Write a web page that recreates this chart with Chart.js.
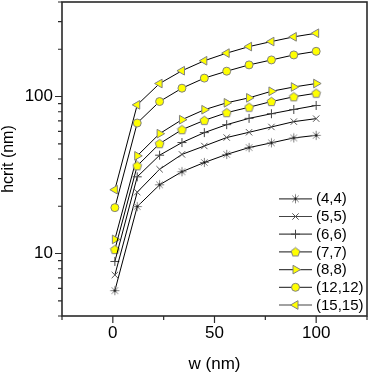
<!DOCTYPE html>
<html><head><meta charset="utf-8">
<script src="https://cdn.jsdelivr.net/npm/chart.js@4/dist/chart.umd.min.js"></script>
<style>html,body{margin:0;padding:0;background:#fff}canvas{display:block}</style>
</head><body>
<canvas id="c" width="369" height="373"></canvas>
<script>
// ---- data ----
const wValues = [1, 12, 23, 34, 45, 56, 67, 78, 89, 100];
const seriesLabels = ['(4,4)', '(5,5)', '(6,6)', '(7,7)', '(8,8)', '(12,12)', '(15,15)'];
const h44   = [5.8, 19.9, 27.4, 33.2, 38.0, 42.8, 47.3, 50.7, 54.5, 56.6];
const h55   = [7.3, 24.6, 34.4, 42.8, 48.4, 54.8, 59.2, 64.0, 69.2, 72.3];
const h66   = [8.9, 30.8, 42.3, 50.9, 58.9, 66.2, 72.6, 77.7, 82.7, 87.7];
const h77   = [10.6, 36.2, 50.1, 61.5, 70.5, 78.9, 85.5, 92.9, 99.6, 105];
const h88   = [12.3, 41.9, 58.0, 71.2, 82.4, 91.2, 98.1, 108, 115, 121];
const h1212 = [19.6, 67.8, 92.9, 113, 131, 145, 159, 171, 184, 194];
const h1515 = [25.5, 88.5, 121, 146, 169, 189, 208, 224, 240, 253];
const xTickValues = [-25, 0, 25, 50, 75, 100, 125];
const xTickLabels = [0, 50, 100];
const yTickLabels = [10, 100];
const xTitle = 'w (nm)';
const yTitle = 'hcrit (nm)';

// ---- marker images ----
function makeCanvas(size, draw) {
  const c = document.createElement('canvas');
  c.width = size; c.height = size;
  draw(c.getContext('2d'), size / 2);
  return c;
}
const starImg = makeCanvas(11, (g, c) => {
  g.strokeStyle = '#808080'; g.lineWidth = 1;
  g.beginPath();
  for (let k = 0; k < 8; k++) {
    const a = k * Math.PI / 4;
    g.moveTo(c, c);
    g.lineTo(c + Math.cos(a) * 4.6, c + Math.sin(a) * 4.6);
  }
  g.stroke();
  g.fillStyle = '#000';
  g.fillRect(c - 1, c - 1, 2, 2);
});
const pentImg = makeCanvas(11, (g, c) => {
  g.beginPath();
  for (let k = 0; k < 5; k++) {
    const a = -Math.PI / 2 + k * 2 * Math.PI / 5;
    const px = c + Math.cos(a) * 4.6, py = c + 0.4 + Math.sin(a) * 4.6;
    k === 0 ? g.moveTo(px, py) : g.lineTo(px, py);
  }
  g.closePath();
  g.fillStyle = '#ffff00'; g.fill();
  g.strokeStyle = '#808080'; g.lineWidth = 1; g.stroke();
});

const styles = [
  {pointStyle: starImg, rotation: 0, radius: 5, bg: '#808080', bc: '#808080'},
  {pointStyle: 'crossRot', rotation: 0, radius: 4.5, bg: '#555', bc: '#555'},
  {pointStyle: 'cross', rotation: 0, radius: 4.5, bg: '#444', bc: '#444'},
  {pointStyle: pentImg, rotation: 0, radius: 5, bg: '#ffff00', bc: '#808080'},
  {pointStyle: 'triangle', rotation: 90, radius: 5, bg: '#ffff00', bc: '#808080'},
  {pointStyle: 'circle', rotation: 0, radius: 4, bg: '#ffff00', bc: '#808080'},
  {pointStyle: 'triangle', rotation: -90, radius: 5, bg: '#ffff00', bc: '#808080'}
];
const series = [h44, h55, h66, h77, h88, h1212, h1515];

const datasets = series.map((vals, i) => ({
  label: seriesLabels[i],
  data: wValues.map((w, j) => ({x: w, y: vals[j]})),
  borderColor: '#000',
  borderWidth: 1,
  tension: 0,
  fill: false,
  pointStyle: styles[i].pointStyle,
  pointRotation: styles[i].rotation,
  pointRadius: styles[i].radius,
  pointBackgroundColor: styles[i].bg,
  pointBorderColor: styles[i].bc,
  pointBorderWidth: 1
}));

const FONT = 'Liberation Sans, Arial, Helvetica, sans-serif';
const AXIS_COLOR = '#2a2a2a';

const framePlugin = {
  id: 'frame',
  afterDatasetsDraw(chart) {
    const {ctx, chartArea: a, scales} = chart;
    ctx.save();
    ctx.strokeStyle = AXIS_COLOR;
    ctx.lineWidth = 1.6;
    ctx.strokeRect(a.left, a.top, a.right - a.left, a.bottom - a.top);
    ctx.lineWidth = 1.2;
    ctx.beginPath();
    scales.y.ticks.forEach(t => {
      const y = scales.y.getPixelForValue(t.value);
      const len = yTickLabels.includes(t.value) ? 7 : 4;
      ctx.moveTo(a.left, y); ctx.lineTo(a.left - len, y);
    });
    scales.x.ticks.forEach(t => {
      const x = scales.x.getPixelForValue(t.value);
      const len = xTickLabels.includes(t.value) ? 7 : 4;
      ctx.moveTo(x, a.bottom); ctx.lineTo(x, a.bottom + len);
    });
    ctx.stroke();
    ctx.restore();
  }
};

const legendPlugin = {
  id: 'customLegend',
  afterDraw(chart) {
    const {ctx, chartArea: a} = chart;
    const ds = chart.data.datasets;
    const n = ds.length;
    const step = 17.7;
    ctx.save();
    ds.forEach((d, i) => {
      const y = a.bottom - 11 - (n - 1 - i) * step;
      const x0 = a.right - 88, x1 = a.right - 55;
      ctx.strokeStyle = '#444';
      ctx.lineWidth = 1.2;
      ctx.beginPath(); ctx.moveTo(x0, y); ctx.lineTo(x1, y); ctx.stroke();
      ctx.fillStyle = d.pointBackgroundColor;
      ctx.strokeStyle = d.pointBorderColor;
      ctx.lineWidth = 1;
      Chart.helpers.drawPoint(ctx, {
        pointStyle: d.pointStyle, rotation: d.pointRotation,
        radius: d.pointRadius, borderWidth: 1
      }, (x0 + x1) / 2, y);
      ctx.fillStyle = '#000';
      ctx.font = '15px ' + FONT;
      ctx.textBaseline = 'middle';
      ctx.textAlign = 'left';
      ctx.fillText(d.label, a.right - 51, y + 0.5);
    });
    ctx.restore();
  }
};

function zeroPad(s) { s.paddingLeft = 0; s.paddingRight = 0; s.paddingTop = 0; s.paddingBottom = 0; }

new Chart(document.getElementById('c'), {
  type: 'line',
  data: {datasets},
  options: {
    responsive: false,
    animation: false,
    devicePixelRatio: 1,
    layout: {autoPadding: false, padding: {top: 2, right: 2, left: 0, bottom: 0}},
    plugins: {legend: {display: false}, tooltip: {enabled: false}},
    scales: {
      x: {
        type: 'linear', min: -25, max: 125,
        afterBuildTicks: s => { s.ticks = xTickValues.map(v => ({value: v})); },
        ticks: {
          autoSkip: false, maxRotation: 0, padding: 7, color: '#000',
          font: {family: FONT, size: 17},
          callback: v => xTickLabels.includes(v) ? String(v) : ''
        },
        grid: {display: false, drawTicks: false},
        border: {display: false},
        title: {display: true, text: xTitle, color: '#000', font: {family: FONT, size: 17, lineHeight: 1}, padding: 0},
        afterFit: s => { s.height = 57; zeroPad(s); }
      },
      y: {
        type: 'logarithmic', min: 4, max: 400,
        afterBuildTicks: s => {
          const t = [];
          for (let dec = 1; dec <= 100; dec *= 10) {
            for (let m = 1; m <= 9; m++) {
              const v = m * dec;
              if (v >= 4 && v <= 400) t.push({value: v});
            }
          }
          s.ticks = t;
        },
        ticks: {
          autoSkip: false, padding: 9, color: '#000',
          font: {family: FONT, size: 17},
          callback: v => yTickLabels.includes(v) ? String(v) : ''
        },
        grid: {display: false, drawTicks: false},
        border: {display: false},
        title: {display: true, text: yTitle, color: '#000', font: {family: FONT, size: 16, lineHeight: 1}, padding: {top: 1, bottom: 0}},
        afterFit: s => { s.width = 62; zeroPad(s); }
      }
    }
  },
  plugins: [framePlugin, legendPlugin]
});
</script>
</body></html>
